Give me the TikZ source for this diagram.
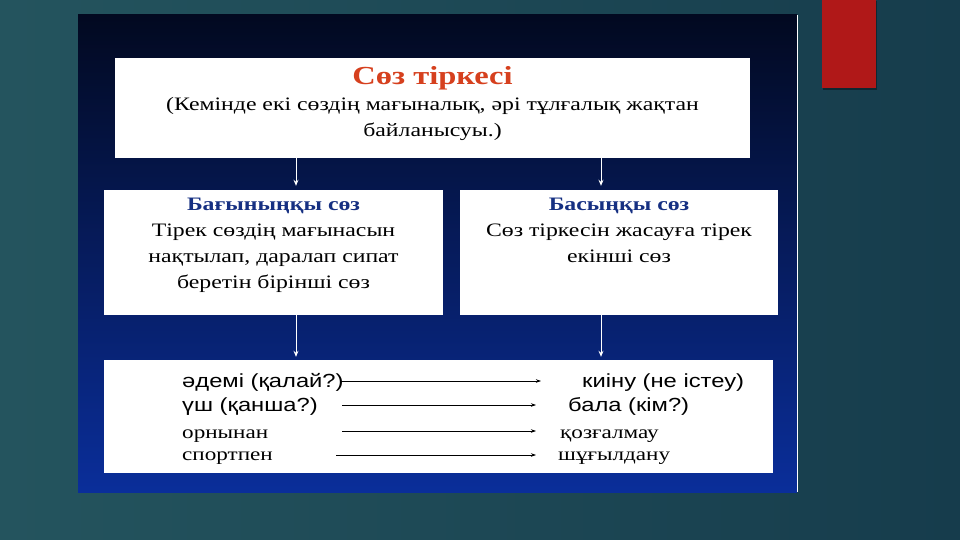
\documentclass[tikz,border=0pt]{standalone}
\usepackage{fontspec}
\setmainfont{Liberation Serif}[FakeStretch=1.25]
\setsansfont{Liberation Sans}[FakeStretch=1.25]
\usetikzlibrary{arrows.meta,positioning}
\definecolor{bgteal}{RGB}{36,84,94}
\definecolor{bgdark}{RGB}{22,60,76}
\definecolor{paneltop}{RGB}{2,9,32}
\definecolor{panelmid}{RGB}{8,32,110}
\definecolor{panelbot}{RGB}{10,46,154}
\definecolor{slidered}{RGB}{176,24,24}
\definecolor{titlered}{RGB}{214,64,30}
\definecolor{titleblue}{RGB}{22,48,130}
\tikzset{
  box/.style={draw=none, fill=white, rectangle, inner sep=0pt},
  boxtext/.style={align=center, font=\fontsize{19}{26}\selectfont, inner sep=0pt},
  rowtext/.style={anchor=base west, inner sep=0pt},
  wharrow/.style={draw=white, line width=1pt, -{Stealth[length=6pt,width=5pt]}},
  blarrow/.style={draw=black, line width=0.7pt, -{Stealth[length=5pt,width=3.5pt]}},
}
\begin{document}
\begin{tikzpicture}[x=1pt,y=-1pt]
    \useasboundingbox (0,0) rectangle (960,540);
    % background and panel
    \shade[left color=bgteal, right color=bgdark] (0,0) rectangle (960,540);
    \fill[black!35!bgdark] (823,1) rectangle (877,90);
    \fill[slidered] (822,0) rectangle (876,88);
    \shade[top color=paneltop, middle color=panelmid, bottom color=panelbot] (78,15) rectangle (797,492);
    \draw[white, line width=0.8pt] (797,15) -- (797,492);

    % boxes
    \node[box, minimum width=635, minimum height=100] (soz) at (432.5,108) {};
    \node[box, minimum width=339, minimum height=125] (bagyn) at (273.5,252.5) {};
    \node[box, minimum width=318, minimum height=125] (basyn) at (619,252.5) {};
    \node[box, minimum width=669, minimum height=113] (mysal) at (438.5,416.5) {};

    % texts
    \node[boxtext, anchor=north] (sozt) at (432.5,66) {{\color{titlered}\bfseries\fontsize{26}{28}\selectfont Сөз тіркесі}\\
      (Кемінде екі сөздің мағыналық, әрі тұлғалық жақтан\\ байланысуы.)};
    \node[boxtext, anchor=north] (bagynt) at (273.5,198) {{\color{titleblue}\bfseries Бағыныңқы сөз}\\
      Тірек сөздің мағынасын\\ нақтылап, даралап сипат\\ беретін бірінші сөз};
    \node[boxtext, anchor=north] (basynt) at (619,198) {{\color{titleblue}\bfseries Басыңқы сөз}\\
      Сөз тіркесін жасауға тірек\\ екінші сөз};

    % examples
    \node[rowtext, font=\sffamily\fontsize{19}{22}\selectfont] (l1) at (182,387) {әдемі (қалай?)};
    \node[rowtext, font=\sffamily\fontsize{19}{22}\selectfont] (r1) at (582,387) {киіну (не істеу)};
    \node[rowtext, font=\sffamily\fontsize{19}{22}\selectfont] (l2) at (182,411) {үш (қанша?)};
    \node[rowtext, font=\sffamily\fontsize{19}{22}\selectfont] (r2) at (568,411) {бала (кім?)};
    \node[rowtext, font=\fontsize{18.5}{22}\selectfont] (l3) at (182,438) {орнынан};
    \node[rowtext, font=\fontsize{18.5}{22}\selectfont] (r3) at (560,438) {қозғалмау};
    \node[rowtext, font=\fontsize{18.5}{22}\selectfont] (l4) at (182,460) {спортпен};
    \node[rowtext, font=\fontsize{18.5}{22}\selectfont] (r4) at (558,460) {шұғылдану};

    \coordinate (a1) at (340,381);
    \coordinate (b1) at (541,381);
    \coordinate (a2) at (342,405);
    \coordinate (b2) at (536,405);
    \coordinate (a3) at (342,431);
    \coordinate (b3) at (536,431);
    \coordinate (a4) at (336,455);
    \coordinate (b4) at (536,455);

    % connectors
    \draw[wharrow] (soz.south -| 296,0) -- ([yshift=4]bagyn.north -| 296,0);
    \draw[wharrow] (soz.south -| 601,0) -- ([yshift=4]basyn.north -| 601,0);
    \draw[wharrow] (bagyn.south -| 296,0) -- ([yshift=3]mysal.north -| 296,0);
    \draw[wharrow] (basyn.south -| 601,0) -- ([yshift=3]mysal.north -| 601,0);
    \foreach \i in {1,...,4}
        \draw[blarrow] (a\i) -- (b\i);
\end{tikzpicture}
\end{document}
